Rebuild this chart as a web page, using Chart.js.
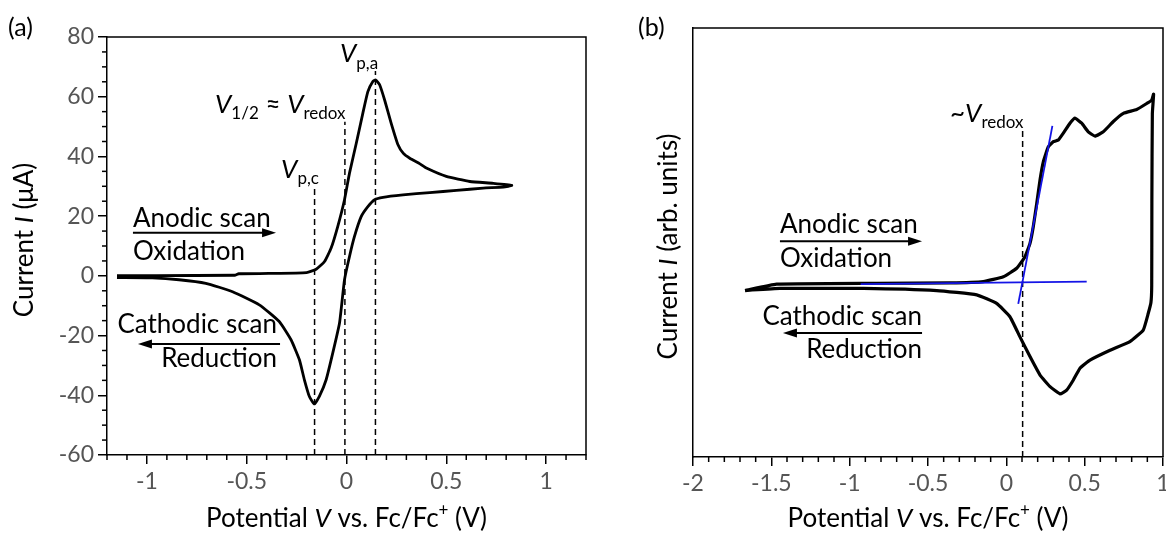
<!DOCTYPE html>
<html>
<head>
<meta charset="utf-8">
<script src="https://cdn.jsdelivr.net/npm/chart.js@4.4.1/dist/chart.umd.min.js"></script>
<style>
  body { margin: 0; width: 1166px; height: 536px; overflow: hidden; background: #fff; position: relative; }
  .panel { position: absolute; top: 0; }
  #panelA { left: 0; }
  #panelB { left: 620px; }
</style>
</head>
<body>
<div class="panel" id="panelA"><canvas id="chartA" width="600" height="536"></canvas></div>
<div class="panel" id="panelB"><canvas id="chartB" width="560" height="536"></canvas></div>
<script>
// --- (a) reversible couple: potential (V vs Fc/Fc+) and current (uA), forward then reverse scan ---
const potentialA = [-1.15, -0.95, -0.56, -0.54, -0.39, -0.2, -0.152, -0.11, -0.077, -0.044, -0.01, 0.015, 0.049, 0.082, 0.107, 0.132, 0.146, 0.166, 0.191, 0.224, 0.258, 0.285, 0.317, 0.368, 0.40, 0.50, 0.618, 0.735, 0.828,
  0.786, 0.685, 0.551, 0.417, 0.283, 0.183, 0.141, 0.107, 0.074, 0.040, 0.015, -0.01, -0.035, -0.069, -0.102, -0.136, -0.161, -0.186, -0.211, -0.236, -0.278, -0.337, -0.437, -0.571, -0.705, -0.839, -0.973, -1.15];
const currentA = [0.1, 0.1, 0.2, 0.7, 0.8, 1.1, 2.2, 4.8, 9.3, 16.5, 25.5, 34.4, 44.4, 54.5, 61.7, 65.1, 65.6, 64, 58.9, 51.1, 43.9, 41.0, 39.4, 37.5, 36.1, 33.3, 31.6, 31.0, 30.3,
  29.7, 29.4, 28.6, 27.9, 27.1, 26.3, 25.5, 23.2, 19.9, 13.2, 6.5, -1.3, -15.8, -25.9, -34.8, -40.4, -42.9, -40.4, -34.8, -28.1, -21.4, -15.3, -9.7, -5.3, -2.5, -1.3, -0.7, -0.6];
// dashed markers: V_p,c, V_1/2, V_p,a (potential, top of the line)
const markerPotA = [-0.16, -0.008, 0.145];
const markerTopA = [29.4, 51.6, 68.6];
const xTicksA = [-1, -0.5, 0, 0.5, 1];
const yTicksA = [-60, -40, -20, 0, 20, 40, 60, 80];

// --- (b) irreversible oxidation, current in arbitrary units ---
const potentialB = [-1.668, -1.466, -0.827, -0.360, -0.147, -0.019, 0.066, 0.119, 0.151, 0.172, 0.194, 0.215, 0.236, 0.268, 0.300, 0.332, 0.364, 0.406, 0.438, 0.481, 0.523, 0.566, 0.619, 0.683, 0.747, 0.832, 0.896, 0.928, 0.940,
  0.932, 0.929, 0.928, 0.923, 0.906, 0.874, 0.789, 0.662, 0.534, 0.470, 0.427, 0.385, 0.343, 0.279, 0.215, 0.151, 0.087, 0.023, -0.062, -0.189, -0.444, -0.913, -1.445, -1.636, -1.668];
const currentB = [38.8, 40.3, 40.5, 40.6, 40.9, 42.0, 44.0, 46.7, 49.8, 53.7, 59.1, 64.6, 68.8, 72.3, 73.5, 73.9, 75.5, 77.8, 79.0, 77.8, 75.8, 74.8, 75.8, 78.2, 80.1, 81.0, 82.4, 83.2, 84.6,
  80, 60, 40, 36, 33.5, 29.6, 26.9, 24.9, 22.6, 20.7, 17.9, 15.6, 14.7, 16.4, 19.1, 23.4, 28.0, 32.7, 35.8, 37.8, 38.8, 39.3, 39.3, 38.9, 38.8];
const redoxPotB = 0.104;
const redoxTopB = 76.4;
const baselinePotB = [-0.93, 0.513];
const baselineCurB = [40.3, 40.9];
const tangentPotB = [0.076, 0.294];
const tangentCurB = [35.7, 77.2];
const xTicksB = [-2, -1.5, -1, -0.5, 0, 0.5, 1];

Chart.defaults.font.family = 'Lato, "Open Sans", sans-serif';
Chart.defaults.animation = false;

const pts = (xs, ys) => xs.map((x, i) => ({ x: x, y: ys[i] }));
const fmt = v => String(Math.round(v * 10) / 10);

// draw a run of text parts (italic / subscript / superscript) on one baseline
function richText(ctx, parts, x, y, align, size) {
    size = size || 26;
    const fontOf = p => (p.it ? 'italic ' : '') + ((p.sub || p.sup) ? Math.round(size * 0.66) : size) + 'px Lato';
    let total = 0;
    parts.forEach(p => { ctx.font = fontOf(p); p.w = ctx.measureText(p.t).width; total += p.w; });
    let cx = align === 'right' ? x - total : align === 'center' ? x - total / 2 : x;
    parts.forEach(p => {
        ctx.font = fontOf(p);
        ctx.fillText(p.t, cx, y + (p.sub ? size * 0.25 : p.sup ? -size * 0.42 : 0));
        cx += p.w;
    });
}

function arrow(ctx, x1, x2, y) {
    const dir = Math.sign(x2 - x1);
    ctx.lineWidth = 2;
    ctx.beginPath(); ctx.moveTo(x1, y); ctx.lineTo(x2 - dir * 8, y); ctx.stroke();
    ctx.beginPath(); ctx.moveTo(x2, y); ctx.lineTo(x2 - dir * 14, y - 4.5); ctx.lineTo(x2 - dir * 14, y + 4.5); ctx.closePath(); ctx.fill();
}

// frame on top/right + minor ticks + all the text labels
function overlay(minorX, minorY, drawLabels) {
    return {
        id: 'overlay',
        afterDraw(chart) {
            const { ctx, chartArea: a } = chart;
            const xs = chart.scales.x, ys = chart.scales.y;
            ctx.save();
            ctx.strokeStyle = '#000';
            ctx.fillStyle = '#000';
            ctx.lineWidth = 1.5;
            ctx.beginPath();
            ctx.moveTo(a.left, a.top); ctx.lineTo(a.right, a.top); ctx.lineTo(a.right, a.bottom);
            ctx.stroke();

            if (minorX) {
                for (let v = xs.min; v <= xs.max + 1e-9; v += minorX) {
                    const r = Math.round(v * 10) / 10;
                    if (Math.abs(r * 2 - Math.round(r * 2)) < 1e-6) continue;
                    const px = xs.getPixelForValue(r);
                    ctx.beginPath(); ctx.moveTo(px, a.bottom); ctx.lineTo(px, a.bottom + 5); ctx.stroke();
                }
            }
            if (minorY) {
                for (let v = ys.min; v <= ys.max + 1e-9; v += minorY) {
                    if (v % 20 === 0) continue;
                    const py = ys.getPixelForValue(v);
                    ctx.beginPath(); ctx.moveTo(a.left, py); ctx.lineTo(a.left - 5, py); ctx.stroke();
                }
            }
            ctx.textAlign = 'left';
            ctx.textBaseline = 'alphabetic';
            drawLabels(ctx, xs, ys, a);
            ctx.restore();
        }
    };
}

const axisBase = (ticksArr, fitSize, horizontal) => ({
    type: 'linear',
    afterBuildTicks: s => { s.ticks = ticksArr.map(v => ({ value: v })); },
    afterFit: s => { if (horizontal) s.height = fitSize; else s.width = fitSize; },
    ticks: { color: '#555', font: { size: 23 }, padding: 4, callback: v => fmt(v) },
    grid: { drawOnChartArea: false, drawTicks: true, tickLength: 9, color: '#000', lineWidth: 1.5 },
    border: { display: true, color: '#000', width: 1.5 }
});

const lineDs = (data, color, width, dash) => ({
    data: data, showLine: true, borderColor: color, borderWidth: width,
    borderDash: dash || [], pointRadius: 0, tension: 0, fill: false
});

// ---------- Panel (a) ----------
const dsA = [Object.assign(lineDs(pts(potentialA, currentA), '#000', 2.8), { tension: 0.15 })];
markerPotA.forEach((v, i) => dsA.push(lineDs(pts([v, v], [-60, markerTopA[i]]), '#000', 1.5, [6, 4])));

new Chart(document.getElementById('chartA'), {
    type: 'scatter',
    data: { datasets: dsA },
    options: {
        responsive: false,
        layout: { padding: { top: 37, right: 14, bottom: 0, left: 0 } },
        plugins: { legend: { display: false }, tooltip: { enabled: false } },
        scales: {
            x: Object.assign(axisBase(xTicksA, 81, true), { min: -1.2, max: 1.2 }),
            y: Object.assign(axisBase(yTicksA, 107, false), { min: -60, max: 80 })
        }
    },
    plugins: [overlay(0.1, 5, (ctx, xs, ys, a) => {
        const X = v => xs.getPixelForValue(v), Y = v => ys.getPixelForValue(v);
        richText(ctx, [{ t: '(a)' }], 8, 36, 'left', 25);
        richText(ctx, [{ t: 'Potential ' }, { t: 'V', it: 1 }, { t: ' vs. Fc/Fc' }, { t: '+', sup: 1 }, { t: ' (V)' }], (a.left + a.right) / 2, 527, 'center');
        ctx.save();
        ctx.translate(33, (a.top + a.bottom) / 2 - 6);
        ctx.rotate(-Math.PI / 2);
        richText(ctx, [{ t: 'Current ' }, { t: 'I', it: 1 }, { t: ' (\u03bcA)' }], 0, 0, 'center');
        ctx.restore();

        richText(ctx, [{ t: 'V', it: 1 }, { t: 'p,a', sub: 1 }], X(-0.033), Y(71.6), 'left');
        richText(ctx, [{ t: 'V', it: 1 }, { t: '1/2', sub: 1 }, { t: ' \u2248 ' }, { t: 'V', it: 1 }, { t: 'redox', sub: 1 }], X(-0.659), Y(54.6), 'left');
        richText(ctx, [{ t: 'V', it: 1 }, { t: 'p,c', sub: 1 }], X(-0.328), Y(32.8), 'left');

        richText(ctx, [{ t: 'Anodic scan' }], X(-1.07), Y(16.4), 'left');
        arrow(ctx, X(-1.07), X(-0.353), Y(14.4));
        richText(ctx, [{ t: 'Oxidation' }], X(-1.07), Y(5.3), 'left');

        richText(ctx, [{ t: 'Cathodic scan' }], X(-0.348), Y(-19.1), 'right');
        arrow(ctx, X(-0.333), X(-1.045), Y(-22.8));
        richText(ctx, [{ t: 'Reduction' }], X(-0.348), Y(-30.5), 'right');
    })]
});

// ---------- Panel (b) ----------
const dsB = [
    lineDs(pts(baselinePotB, baselineCurB), '#1414e6', 1.8),
    lineDs(pts(tangentPotB, tangentCurB), '#1414e6', 1.8),
    Object.assign(lineDs(pts(potentialB, currentB), '#000', 3.2), { tension: 0.12 }),
    lineDs(pts([redoxPotB, redoxPotB], [0, redoxTopB]), '#000', 1.5, [6, 4])
];

new Chart(document.getElementById('chartB'), {
    type: 'scatter',
    data: { datasets: dsB },
    options: {
        responsive: false,
        layout: { padding: { top: 28, right: 17, bottom: 0, left: 0 } },
        plugins: { legend: { display: false }, tooltip: { enabled: false } },
        scales: {
            x: Object.assign(axisBase(xTicksB, 79, true), { min: -2, max: 1 }),
            y: Object.assign(axisBase([], 73, false), {
                min: 0, max: 100,
                ticks: { display: false },
                grid: { drawOnChartArea: false, drawTicks: false }
            })
        }
    },
    plugins: [overlay(0.1, 0, (ctx, xs, ys, a) => {
        const X = v => xs.getPixelForValue(v), Y = v => ys.getPixelForValue(v);
        richText(ctx, [{ t: '(b)' }], 18, 36, 'left', 25);
        richText(ctx, [{ t: 'Potential ' }, { t: 'V', it: 1 }, { t: ' vs. Fc/Fc' }, { t: '+', sup: 1 }, { t: ' (V)' }], (a.left + a.right) / 2, 527, 'center');
        ctx.save();
        ctx.translate(57, (a.top + a.bottom) / 2 + 4);
        ctx.rotate(-Math.PI / 2);
        richText(ctx, [{ t: 'Current ' }, { t: 'I', it: 1 }, { t: ' (arb. units)' }], 0, 0, 'center');
        ctx.restore();

        richText(ctx, [{ t: '~' }, { t: 'V', it: 1 }, { t: 'redox', sub: 1 }], X(-0.36), Y(78.1), 'left');

        richText(ctx, [{ t: 'Anodic scan' }], X(-1.445), Y(52.2), 'left');
        arrow(ctx, X(-1.445), X(-0.538), Y(50.3));
        richText(ctx, [{ t: 'Oxidation' }], X(-1.445), Y(44.3), 'left');

        richText(ctx, [{ t: 'Cathodic scan' }], X(-0.538), Y(30.8), 'right');
        arrow(ctx, X(-0.538), X(-1.426), Y(28.9));
        richText(ctx, [{ t: 'Reduction' }], X(-0.538), Y(23.1), 'right');
    })]
});
</script>
</body>
</html>
